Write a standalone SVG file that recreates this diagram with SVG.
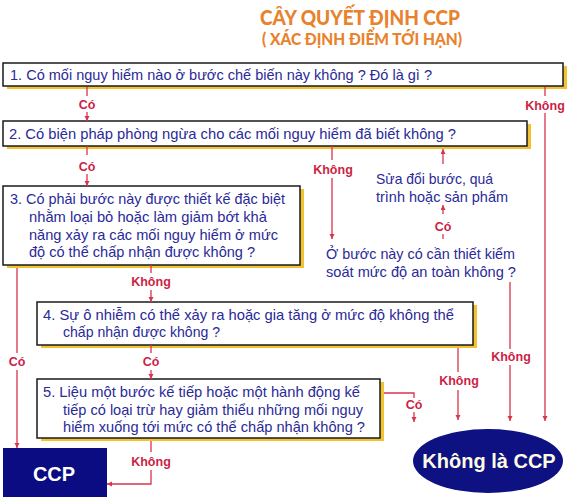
<svg xmlns="http://www.w3.org/2000/svg" width="576" height="499" viewBox="0 0 576 499">
<style>
.bg{fill:#ffffff}
.box{fill:#ffffff;stroke:#1a1a1a;stroke-width:1.5}
.sh{fill:#F2C232}
.t{font-family:"Liberation Sans",Arial,sans-serif;font-size:14.5px;fill:#2A2A98}
.lb{font-family:"Liberation Sans",Arial,sans-serif;font-size:12.5px;font-weight:bold;fill:#CC1F45;text-anchor:middle}
.ln{fill:none;stroke:#D8344E;stroke-width:1.3}
.ttl{font-family:Lato,"Open Sans",sans-serif;font-weight:900;fill:#E8822C;text-anchor:middle}
.wt{font-family:"Liberation Sans",Arial,sans-serif;font-weight:bold;font-size:20px;text-anchor:middle}
</style>
<defs>
<marker id="ah" markerWidth="6" markerHeight="6" refX="5" refY="2.5" orient="auto" markerUnits="userSpaceOnUse">
<path d="M0,0 L5,2.5 L0,5 z" fill="#D8344E"/>
</marker>
</defs>
<rect class="bg" x="0" y="0" width="576" height="499"/>

<g id="title">
<text class="ttl" x="360" y="25" font-size="21" textLength="200" lengthAdjust="spacingAndGlyphs">CÂY QUYẾT ĐỊNH CCP</text>
<text class="ttl" x="362" y="45" font-size="16.5" textLength="200" lengthAdjust="spacingAndGlyphs">( XÁC ĐỊNH ĐIỂM TỚI HẠN)</text>
</g>

<g id="q1">
<rect class="sh" x="7" y="66" width="560" height="23"/>
<rect class="box" x="3" y="63" width="560" height="23"/>
<text class="t" x="10" y="80" textLength="422" lengthAdjust="spacingAndGlyphs">1. Có mối nguy hiểm nào ở bước chế biến này không ? Đó là gì ?</text>
</g>

<g id="q2">
<rect class="sh" x="7" y="124" width="524" height="25"/>
<rect class="box" x="3" y="121" width="524" height="25"/>
<text class="t" x="9" y="139" textLength="447" lengthAdjust="spacingAndGlyphs">2. Có biện pháp phòng ngừa cho các mối nguy hiểm đã biết không ?</text>
</g>

<g id="q3">
<rect class="sh" x="7" y="189" width="297" height="79"/>
<rect class="box" x="3" y="186" width="297" height="79"/>
<text class="t" x="10" y="204" textLength="275" lengthAdjust="spacingAndGlyphs">3. Có phải bước này được thiết kế đặc biệt</text>
<text class="t" x="29" y="222" textLength="238" lengthAdjust="spacingAndGlyphs">nhằm loại bỏ hoặc làm giảm bớt khả</text>
<text class="t" x="29" y="240" textLength="249" lengthAdjust="spacingAndGlyphs">năng xảy ra các mối nguy hiểm ở mức</text>
<text class="t" x="29" y="257" textLength="226" lengthAdjust="spacingAndGlyphs">độ có thể chấp nhận được không ?</text>
</g>

<g id="q4">
<rect class="sh" x="41" y="305" width="436" height="43"/>
<rect class="box" x="37" y="302" width="436" height="43"/>
<text class="t" x="43" y="320" textLength="411" lengthAdjust="spacingAndGlyphs">4. Sự ô nhiễm có thể xảy ra hoặc gia tăng ở mức độ không thể</text>
<text class="t" x="63" y="337" textLength="157" lengthAdjust="spacingAndGlyphs">chấp nhận được không ?</text>
</g>

<g id="q5">
<rect class="sh" x="41" y="382" width="343" height="59"/>
<rect class="box" x="37" y="379" width="343" height="59"/>
<text class="t" x="43" y="397" textLength="317" lengthAdjust="spacingAndGlyphs">5. Liệu một bước kế tiếp hoặc một hành động kế</text>
<text class="t" x="63" y="415" textLength="300" lengthAdjust="spacingAndGlyphs">tiếp có loại trừ hay giảm thiểu những mối nguy</text>
<text class="t" x="63" y="432" textLength="302" lengthAdjust="spacingAndGlyphs">hiểm xuống tới mức có thể chấp nhận không ?</text>
</g>

<g id="modify">
<text class="t" x="376" y="184" textLength="117" lengthAdjust="spacingAndGlyphs">Sửa đổi bước, quá</text>
<text class="t" x="376" y="202" textLength="132" lengthAdjust="spacingAndGlyphs">trình hoặc sản phẩm</text>
</g>

<g id="control">
<text class="t" x="326" y="259" textLength="189" lengthAdjust="spacingAndGlyphs">Ở bước này có cần thiết kiểm</text>
<text class="t" x="326" y="277" textLength="190" lengthAdjust="spacingAndGlyphs">soát mức độ an toàn không ?</text>
</g>

<g id="ccp">
<rect x="3" y="448" width="104" height="49" fill="#0B0B82"/>
<text class="wt" x="54" y="481" fill="#ffffff">CCP</text>
</g>

<g id="notccp">
<ellipse cx="488" cy="461" rx="75" ry="32" fill="#0D1182"/>
<text class="wt" x="489" y="468" fill="#FFFBE0" font-size="19.5">Không là CCP</text>
</g>

<g id="connectors">
<line class="ln" x1="87" y1="87" x2="87" y2="96"/>
<line class="ln" x1="87" y1="112" x2="87" y2="121" marker-end="url(#ah)"/>
<text class="lb" x="87" y="109">Có</text>
<line class="ln" x1="87" y1="146" x2="87" y2="155"/>
<line class="ln" x1="87" y1="174" x2="87" y2="186" marker-end="url(#ah)"/>
<text class="lb" x="87" y="171">Có</text>
<line class="ln" x1="545" y1="87" x2="545" y2="96"/>
<line class="ln" x1="545" y1="113" x2="545" y2="421" marker-end="url(#ah)"/>
<text class="lb" x="545" y="110">Không</text>
<line class="ln" x1="332" y1="146" x2="332" y2="160"/>
<line class="ln" x1="332" y1="178" x2="332" y2="239" marker-end="url(#ah)"/>
<text class="lb" x="333" y="174">Không</text>
<line class="ln" x1="443" y1="164" x2="443" y2="149" marker-end="url(#ah)"/>
<line class="ln" x1="443" y1="239" x2="443" y2="234"/>
<line class="ln" x1="443" y1="214" x2="443" y2="205" marker-end="url(#ah)"/>
<text class="lb" x="443" y="231">Có</text>
<line class="ln" x1="510" y1="282" x2="510" y2="349"/>
<line class="ln" x1="510" y1="365" x2="510" y2="421" marker-end="url(#ah)"/>
<text class="lb" x="511" y="361">Không</text>
<line class="ln" x1="17" y1="268" x2="17" y2="353"/>
<line class="ln" x1="17" y1="370" x2="17" y2="448" marker-end="url(#ah)"/>
<text class="lb" x="17" y="366">Có</text>
<line class="ln" x1="151" y1="265" x2="151" y2="273"/>
<line class="ln" x1="151" y1="290" x2="151" y2="302" marker-end="url(#ah)"/>
<text class="lb" x="151" y="286">Không</text>
<line class="ln" x1="151" y1="345" x2="151" y2="353"/>
<line class="ln" x1="151" y1="370" x2="151" y2="379" marker-end="url(#ah)"/>
<text class="lb" x="151" y="366">Có</text>
<line class="ln" x1="458" y1="348" x2="458" y2="372"/>
<line class="ln" x1="458" y1="390" x2="458" y2="420" marker-end="url(#ah)"/>
<text class="lb" x="459" y="385">Không</text>
<polyline class="ln" points="384,393 414,393 414,398"/>
<line class="ln" x1="414" y1="412" x2="414" y2="422" marker-end="url(#ah)"/>
<text class="lb" x="414" y="409">Có</text>
<line class="ln" x1="151" y1="441" x2="151" y2="452"/>
<polyline class="ln" points="151,470 151,484 107,484" marker-end="url(#ah)"/>
<text class="lb" x="151" y="466">Không</text>
</g>
</svg>
